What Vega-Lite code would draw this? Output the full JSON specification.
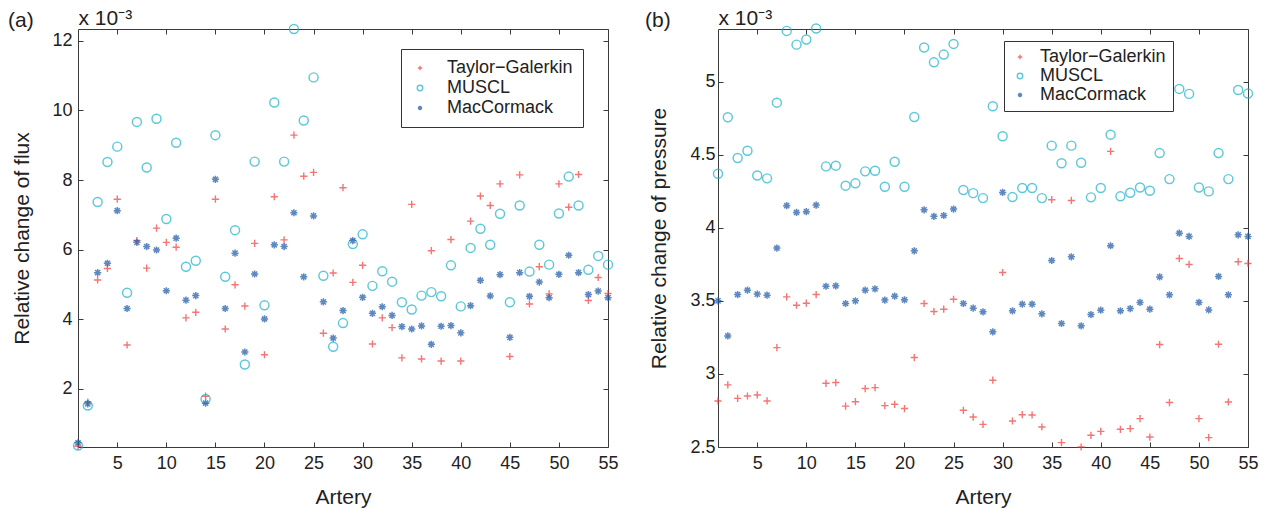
{
  "$schema": "https://vega.github.io/schema/vega-lite/v6.json",
  "background": "white",
  "padding": {"left": 7, "top": 6, "right": 5, "bottom": 5},
  "bounds": "flush",
  "spacing": 110,
  "datasets": {
    "flux": [
      {"a":1,"TG":0.35,"MU":0.37,"MC":0.45},{"a":2,"TG":1.62,"MU":1.52,"MC":1.57},{"a":3,"TG":5.13,"MU":7.37,"MC":5.34},
      {"a":4,"TG":5.46,"MU":8.52,"MC":5.61},{"a":5,"TG":7.45,"MU":8.96,"MC":7.12},{"a":6,"TG":3.26,"MU":4.76,"MC":4.31},
      {"a":7,"TG":6.26,"MU":9.67,"MC":6.21},{"a":8,"TG":5.47,"MU":8.36,"MC":6.09},{"a":9,"TG":6.62,"MU":9.76,"MC":5.99},
      {"a":10,"TG":6.21,"MU":6.88,"MC":4.82},{"a":11,"TG":6.07,"MU":9.07,"MC":6.33},{"a":12,"TG":4.04,"MU":5.51,"MC":4.55},
      {"a":13,"TG":4.20,"MU":5.68,"MC":4.68},{"a":14,"TG":1.79,"MU":1.71,"MC":1.59},{"a":15,"TG":7.45,"MU":9.29,"MC":8.02},
      {"a":16,"TG":3.72,"MU":5.22,"MC":4.31},{"a":17,"TG":4.99,"MU":6.56,"MC":5.90},{"a":18,"TG":4.38,"MU":2.70,"MC":3.06},
      {"a":19,"TG":6.18,"MU":8.53,"MC":5.30},{"a":20,"TG":2.98,"MU":4.40,"MC":4.01},{"a":21,"TG":7.52,"MU":10.23,"MC":6.14},
      {"a":22,"TG":6.28,"MU":8.53,"MC":6.09},{"a":23,"TG":9.29,"MU":12.34,"MC":7.06},{"a":24,"TG":8.11,"MU":9.71,"MC":5.22},
      {"a":25,"TG":8.22,"MU":10.95,"MC":6.97},{"a":26,"TG":3.60,"MU":5.25,"MC":4.50},{"a":27,"TG":5.33,"MU":3.21,"MC":3.46},
      {"a":28,"TG":7.78,"MU":3.89,"MC":4.25},{"a":29,"TG":5.06,"MU":6.16,"MC":6.26},{"a":30,"TG":5.55,"MU":6.44,"MC":4.63},
      {"a":31,"TG":3.29,"MU":4.96,"MC":4.17},{"a":32,"TG":4.04,"MU":5.38,"MC":4.36},{"a":33,"TG":3.76,"MU":5.08,"MC":4.11},
      {"a":34,"TG":2.89,"MU":4.49,"MC":3.79},{"a":35,"TG":7.30,"MU":4.28,"MC":3.72},{"a":36,"TG":2.86,"MU":4.68,"MC":3.81},
      {"a":37,"TG":5.97,"MU":4.78,"MC":3.28},{"a":38,"TG":2.80,"MU":4.66,"MC":3.80},{"a":39,"TG":6.29,"MU":5.55,"MC":3.82},
      {"a":40,"TG":2.80,"MU":4.37,"MC":3.61},{"a":41,"TG":6.82,"MU":6.05,"MC":4.39},{"a":42,"TG":7.54,"MU":6.60,"MC":5.12},
      {"a":43,"TG":7.27,"MU":6.14,"MC":4.67},{"a":44,"TG":7.89,"MU":7.03,"MC":5.28},{"a":45,"TG":2.93,"MU":4.49,"MC":3.48},
      {"a":46,"TG":8.15,"MU":7.27,"MC":5.34},{"a":47,"TG":4.44,"MU":5.37,"MC":4.66},{"a":48,"TG":5.51,"MU":6.14,"MC":5.07},
      {"a":49,"TG":4.73,"MU":5.57,"MC":4.62},{"a":50,"TG":7.89,"MU":7.04,"MC":5.29},{"a":51,"TG":7.22,"MU":8.10,"MC":5.84},
      {"a":52,"TG":8.16,"MU":7.27,"MC":5.34},{"a":53,"TG":4.54,"MU":5.42,"MC":4.71},{"a":54,"TG":5.20,"MU":5.82,"MC":4.81},
      {"a":55,"TG":4.74,"MU":5.57,"MC":4.62}
    ],
    "pressure": [
      {"a":1,"TG":2.815,"MU":4.37,"MC":3.50},{"a":2,"TG":2.925,"MU":4.756,"MC":3.26},{"a":3,"TG":2.833,"MU":4.477,"MC":3.543},
      {"a":4,"TG":2.849,"MU":4.527,"MC":3.573},{"a":5,"TG":2.856,"MU":4.358,"MC":3.546},{"a":6,"TG":2.815,"MU":4.338,"MC":3.539},
      {"a":7,"TG":3.180,"MU":4.856,"MC":3.861},{"a":8,"TG":3.527,"MU":5.347,"MC":4.151},{"a":9,"TG":3.470,"MU":5.253,"MC":4.105},
      {"a":10,"TG":3.484,"MU":5.288,"MC":4.110},{"a":11,"TG":3.543,"MU":5.363,"MC":4.155},{"a":12,"TG":2.936,"MU":4.420,"MC":3.600},
      {"a":13,"TG":2.941,"MU":4.425,"MC":3.603},{"a":14,"TG":2.78,"MU":4.288,"MC":3.482},{"a":15,"TG":2.81,"MU":4.304,"MC":3.500},
      {"a":16,"TG":2.900,"MU":4.386,"MC":3.573},{"a":17,"TG":2.906,"MU":4.390,"MC":3.582},{"a":18,"TG":2.783,"MU":4.281,"MC":3.505},
      {"a":19,"TG":2.792,"MU":4.452,"MC":3.532},{"a":20,"TG":2.763,"MU":4.281,"MC":3.507},{"a":21,"TG":3.112,"MU":4.758,"MC":3.842},
      {"a":22,"TG":3.482,"MU":5.233,"MC":4.123},{"a":23,"TG":3.427,"MU":5.132,"MC":4.078},{"a":24,"TG":3.443,"MU":5.185,"MC":4.084},
      {"a":25,"TG":3.511,"MU":5.258,"MC":4.128},{"a":26,"TG":2.751,"MU":4.258,"MC":3.482},{"a":27,"TG":2.705,"MU":4.237,"MC":3.450},
      {"a":28,"TG":2.655,"MU":4.203,"MC":3.425},{"a":29,"TG":2.957,"MU":4.831,"MC":3.288},{"a":30,"TG":3.694,"MU":4.626,"MC":4.242},
      {"a":31,"TG":2.678,"MU":4.210,"MC":3.432},{"a":32,"TG":2.721,"MU":4.272,"MC":3.477},{"a":33,"TG":2.719,"MU":4.272,"MC":3.477},
      {"a":34,"TG":2.637,"MU":4.203,"MC":3.411},{"a":35,"TG":4.192,"MU":4.562,"MC":3.776},{"a":36,"TG":2.530,"MU":4.441,"MC":3.345},
      {"a":37,"TG":4.187,"MU":4.562,"MC":3.801},{"a":38,"TG":2.50,"MU":4.445,"MC":3.329},{"a":39,"TG":2.580,"MU":4.208,"MC":3.406},
      {"a":40,"TG":2.607,"MU":4.272,"MC":3.436},{"a":41,"TG":4.523,"MU":4.637,"MC":3.877},{"a":42,"TG":2.621,"MU":4.215,"MC":3.432},
      {"a":43,"TG":2.626,"MU":4.240,"MC":3.447},{"a":44,"TG":2.694,"MU":4.276,"MC":3.489},{"a":45,"TG":2.568,"MU":4.253,"MC":3.443},
      {"a":46,"TG":3.201,"MU":4.511,"MC":3.664},{"a":47,"TG":2.804,"MU":4.333,"MC":3.541},{"a":48,"TG":3.790,"MU":4.950,"MC":3.963},
      {"a":49,"TG":3.749,"MU":4.916,"MC":3.941},{"a":50,"TG":2.694,"MU":4.276,"MC":3.489},{"a":51,"TG":2.564,"MU":4.249,"MC":3.438},
      {"a":52,"TG":3.203,"MU":4.511,"MC":3.667},{"a":53,"TG":2.808,"MU":4.333,"MC":3.541},{"a":54,"TG":3.767,"MU":4.943,"MC":3.952},
      {"a":55,"TG":3.756,"MU":4.918,"MC":3.941}
    ]
  },
  "config": {
    "font": "Liberation Sans",
    "view": {"stroke": "#3a3a3a", "strokeWidth": 1},
    "axis": {"grid": false, "domain": false, "tickSize": -5, "tickColor": "#3a3a3a", "labelFlush": false, "labelOverlap": false, "labelFontSize": 18, "labelColor": "#222", "titleFontSize": 21, "titleFontWeight": "normal", "titleColor": "#222"},
    "legend": {"labelFontSize": 18, "labelColor": "#222", "strokeColor": "#333", "fillColor": "white", "rowPadding": 2, "symbolStrokeWidth": 1.3, "symbolSize": 30},
    "title": {"fontSize": 21, "fontWeight": "normal", "color": "#222", "anchor": "start", "frame": "bounds"}
  },
  "resolve": {"scale": {"color": "independent", "shape": "independent", "strokeWidth": "independent"}, "legend": {"color": "independent", "shape": "independent"}},
  "hconcat": [
    {
      "width": 530, "height": 418,
      "data": {"name": "flux"},
      "transform": [{"fold": ["TG", "MU", "MC"], "as": ["method", "value"]}],
      "title": {"text": "(a)", "offset": -24, "dx": -3},
      "layer": [
        {
          "mark": {"type": "point", "filled": false, "size": 81, "clip": false},
          "encoding": {
            "x": {"field": "a", "type": "quantitative", "scale": {"domain": [1, 55], "nice": false, "zero": false, "padding": 0},
                  "axis": {"values": [5,10,15,20,25,30,35,40,45,50,55], "title": "Artery", "labelPadding": 12, "titlePadding": 14}},
            "y": {"field": "value", "type": "quantitative", "scale": {"domain": [0.33, 12.34], "nice": false, "zero": false, "padding": 0},
                  "axis": {"values": [2,4,6,8,10,12], "title": "Relative change of flux", "labelPadding": 11, "titleX": -50, "titleBaseline": "alphabetic"}},
            "color": {"field": "method", "type": "nominal",
                      "scale": {"domain": ["TG", "MU", "MC"], "range": ["#F23A3A", "#19B2CC", "#1A56A6"]},
                      "legend": {"orient": "none", "legendX": 323, "legendY": 20, "title": null, "padding": 10, "labelOffset": 18,
                                 "labelExpr": "datum.label == 'TG' ? 'Taylor−Galerkin' : datum.label == 'MU' ? 'MUSCL' : 'MacCormack'"}},
            "shape": {"field": "method", "type": "nominal",
                      "scale": {"domain": ["TG", "MU", "MC"], "range": ["M-0.8,0H0.8M0,-0.8V0.8", "circle", "M-0.8,0H0.8M0,-0.8V0.8M-0.57,-0.57L0.57,0.57M-0.57,0.57L0.57,-0.57"]},
                      "legend": {"orient": "none", "legendX": 323, "legendY": 20, "title": null, "padding": 10, "labelOffset": 18,
                                 "labelExpr": "datum.label == 'TG' ? 'Taylor−Galerkin' : datum.label == 'MU' ? 'MUSCL' : 'MacCormack'"}},
            "strokeWidth": {"field": "method", "type": "nominal", "scale": {"domain": ["TG", "MU", "MC"], "range": [1.4, 1.5, 2.1]}, "legend": null}
          }
        },
        {
          "mark": {"type": "point", "opacity": 0},
          "encoding": {
            "x": {"field": "a", "type": "quantitative", "scale": {"domain": [1, 55], "nice": false, "zero": false, "padding": 0},
                  "axis": {"orient": "top", "values": [5,10,15,20,25,30,35,40,45,50,55], "labels": false, "title": "x 10⁻³", "titleAnchor": "start", "titleAlign": "left", "titleAngle": 0, "titleX": 0, "titleY": -5, "titleBaseline": "alphabetic"}},
            "y": {"field": "value", "type": "quantitative", "scale": {"domain": [0.33, 12.34], "nice": false, "zero": false, "padding": 0},
                  "axis": {"orient": "right", "values": [2,4,6,8,10,12], "labels": false, "title": null}}
          }
        }
      ],
      "resolve": {"axis": {"x": "independent", "y": "independent"}}
    },
    {
      "width": 530, "height": 418,
      "data": {"name": "pressure"},
      "transform": [{"fold": ["TG", "MU", "MC"], "as": ["method", "value"]}],
      "title": {"text": "(b)", "offset": -24, "dx": -3},
      "layer": [
        {
          "mark": {"type": "point", "filled": false, "size": 81, "clip": false},
          "encoding": {
            "x": {"field": "a", "type": "quantitative", "scale": {"domain": [1, 55], "nice": false, "zero": false, "padding": 0},
                  "axis": {"values": [5,10,15,20,25,30,35,40,45,50,55], "title": "Artery", "labelPadding": 12, "titlePadding": 14}},
            "y": {"field": "value", "type": "quantitative", "scale": {"domain": [2.5, 5.36], "nice": false, "zero": false, "padding": 0},
                  "axis": {"values": [2.5,3,3.5,4,4.5,5], "format": "~g", "title": "Relative change of pressure", "labelPadding": 8, "titleX": -53, "titleBaseline": "alphabetic"}},
            "color": {"field": "method", "type": "nominal",
                      "scale": {"domain": ["TG", "MU", "MC"], "range": ["#F23A3A", "#19B2CC", "#1A56A6"]},
                      "legend": {"orient": "none", "legendX": 286, "legendY": 12, "title": null, "padding": 7, "rowPadding": 1, "labelOffset": 11,
                                 "labelExpr": "datum.label == 'TG' ? 'Taylor−Galerkin' : datum.label == 'MU' ? 'MUSCL' : 'MacCormack'"}},
            "shape": {"field": "method", "type": "nominal",
                      "scale": {"domain": ["TG", "MU", "MC"], "range": ["M-0.8,0H0.8M0,-0.8V0.8", "circle", "M-0.8,0H0.8M0,-0.8V0.8M-0.57,-0.57L0.57,0.57M-0.57,0.57L0.57,-0.57"]},
                      "legend": {"orient": "none", "legendX": 286, "legendY": 12, "title": null, "padding": 7, "rowPadding": 1, "labelOffset": 11,
                                 "labelExpr": "datum.label == 'TG' ? 'Taylor−Galerkin' : datum.label == 'MU' ? 'MUSCL' : 'MacCormack'"}},
            "strokeWidth": {"field": "method", "type": "nominal", "scale": {"domain": ["TG", "MU", "MC"], "range": [1.4, 1.5, 2.1]}, "legend": null}
          }
        },
        {
          "mark": {"type": "point", "opacity": 0},
          "encoding": {
            "x": {"field": "a", "type": "quantitative", "scale": {"domain": [1, 55], "nice": false, "zero": false, "padding": 0},
                  "axis": {"orient": "top", "values": [5,10,15,20,25,30,35,40,45,50,55], "labels": false, "title": "x 10⁻³", "titleAnchor": "start", "titleAlign": "left", "titleAngle": 0, "titleX": 0, "titleY": -5, "titleBaseline": "alphabetic"}},
            "y": {"field": "value", "type": "quantitative", "scale": {"domain": [2.5, 5.36], "nice": false, "zero": false, "padding": 0},
                  "axis": {"orient": "right", "values": [2.5,3,3.5,4,4.5,5], "labels": false, "title": null}}
          }
        }
      ],
      "resolve": {"axis": {"x": "independent", "y": "independent"}}
    }
  ]
}
